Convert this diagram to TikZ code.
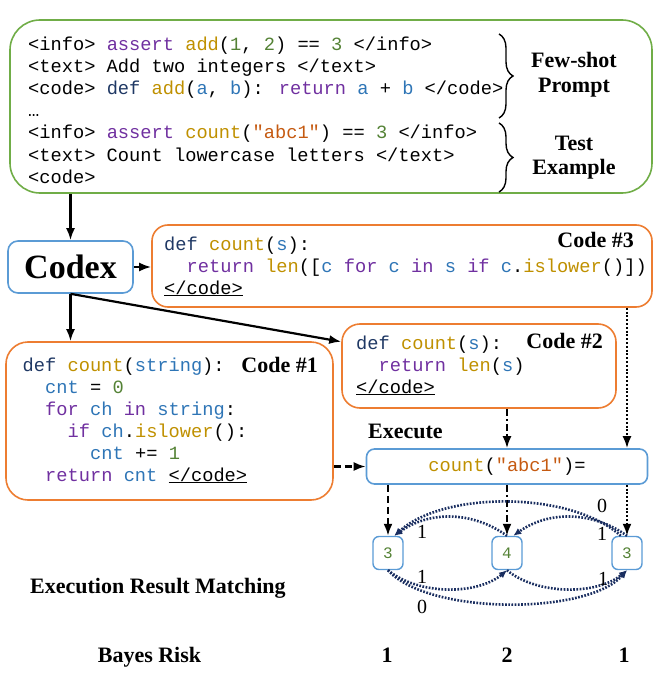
\documentclass[tikz,border=0pt]{standalone}
\usepackage{fontspec}
\setmainfont{Liberation Serif}
\newfontfamily\codefont{Liberation Mono}
\usetikzlibrary{arrows.meta,decorations.pathreplacing,calc}
\definecolor{cpurple}{RGB}{112,48,160}
\definecolor{cgold}{RGB}{191,144,0}
\definecolor{cdark}{RGB}{31,56,100}
\definecolor{cblue}{RGB}{46,117,182}
\definecolor{cgreen}{RGB}{84,130,53}
\definecolor{corange}{RGB}{197,90,17}
\definecolor{boxgreen}{RGB}{112,173,71}
\definecolor{boxorange}{RGB}{237,125,49}
\definecolor{boxblue}{RGB}{91,155,213}
\definecolor{arcnavy}{RGB}{25,45,95}
\newcommand\ckw[1]{\textcolor{cpurple}{#1}}
\newcommand\cfn[1]{\textcolor{cgold}{#1}}
\newcommand\cdf[1]{\textcolor{cdark}{#1}}
\newcommand\cvr[1]{\textcolor{cblue}{#1}}
\newcommand\cnm[1]{\textcolor{cgreen}{#1}}
\newcommand\cstr[1]{\textcolor{corange}{#1}}
\begin{document}
\begin{tikzpicture}[x=1pt,y=-1pt,
  codeline/.style={anchor=base west, inner sep=0pt, font=\codefont\fontsize{18.7}{22}\selectfont},
  lbl/.style={inner sep=0pt, font=\bfseries\fontsize{22}{26}\selectfont},
  numlbl/.style={inner sep=0pt, anchor=base, font=\fontsize{20}{22}\selectfont},
  gbox/.style={draw=boxgreen, line width=1.6pt},
  obox/.style={draw=boxorange, line width=1.6pt},
  bbox/.style={draw=boxblue, line width=1.6pt},
  resbox/.style={draw=boxblue, line width=1.4pt, rounded corners=6pt, minimum width=30, minimum height=33, inner sep=0pt, text=cgreen, font=\codefont\fontsize{16}{18}\selectfont},
  conn/.style={line width=2.2pt, -{Latex[length=12pt,width=9pt]}},
  dsh/.style={dash pattern=on 7pt off 4pt},
  dshdot/.style={dash pattern=on 7pt off 3pt on 2pt off 3pt},
  dtt/.style={dash pattern=on 2pt off 1.8pt},
  arc/.style={draw=arcnavy, line width=2.6pt, dash pattern=on 1.7pt off 1.5pt, -{Latex[length=8pt,width=7pt]}},
  brc/.style={decorate, decoration={brace, amplitude=14pt}, line width=1.4pt}
]
\useasboundingbox (0,0) rectangle (660,679);

% boxes
\node[gbox, rounded corners=30pt, minimum width=642, minimum height=173] (green) at (331,106.5) {};
\node[bbox, rounded corners=10pt, minimum width=125, minimum height=52, inner sep=0pt, font=\bfseries\fontsize{34}{40}\selectfont] (codex) at (70.5,267) {Codex};
\node[obox, rounded corners=16pt, minimum width=500, minimum height=82] (code3) at (402,266) {};
\node[obox, rounded corners=22pt, minimum width=327, minimum height=158] (code1) at (169.5,421) {};
\node[obox, rounded corners=18pt, minimum width=274, minimum height=84] (code2) at (479,366) {};
\node[bbox, rounded corners=8pt, minimum width=281, minimum height=35, inner sep=0pt, font=\codefont\fontsize{18.7}{22}\selectfont] (exec) at (507,466.5) {\cfn{count}(\cstr{"abc1"})=};

% prompt text
\node[codeline] (g1) at (28,51) {<info> \ckw{assert} \cfn{add}(\cnm{1}, \cnm{2}) == \cnm{3} </info>};
\node[codeline] (g2) at (28,73) {<text> Add two integers </text>};
\node[codeline] (g3) at (28,95) {<code> \cdf{def} \cfn{add}(\cvr{a}, \cvr{b}): \ckw{return} \cvr{a} + \cvr{b} </code>};
\node[codeline] (g4) at (28,117) {…};
\node[codeline] (g5) at (28,139) {<info> \ckw{assert} \cfn{count}(\cstr{"abc1"}) == \cnm{3} </info>};
\node[codeline] (g6) at (28,161) {<text> Count lowercase letters </text>};
\node[codeline] (g7) at (28,183) {<code>};

\draw[brc] (499,34) -- (499,118);
\draw[brc] (499,123) -- (499,192);
\node[lbl, anchor=base] (fs1) at (574,68) {Few-shot};
\node[lbl, anchor=base] (fs2) at (574,93) {Prompt};
\node[lbl, anchor=base] (te1) at (574,150) {Test};
\node[lbl, anchor=base] (te2) at (574,175) {Example};

% code 3
\node[codeline] (c3a) at (164,250) {\cdf{def} \cfn{count}(\cvr{s}):};
\node[codeline] (c3b) at (186.5,272) {\ckw{return} \cfn{len}([\cvr{c} \ckw{for} \cvr{c} \ckw{in} \cvr{s} \ckw{if} \cvr{c}.\cfn{islower}()])};
\node[codeline] (c3c) at (164,294) {\underline{</code>}};
\node[lbl, anchor=base east] (c3l) at (634,247) {Code \#3};

% code 1
\node[codeline] (c1a) at (22.5,371) {\cdf{def} \cfn{count}(\cvr{string}):};
\node[codeline] (c1b) at (45,393) {\cvr{cnt} = \cnm{0}};
\node[codeline] (c1c) at (45,415) {\ckw{for} \cvr{ch} \ckw{in} \cvr{string}:};
\node[codeline] (c1d) at (67.5,437) {\ckw{if} \cvr{ch}.\cfn{islower}():};
\node[codeline] (c1e) at (90,459) {\cvr{cnt} += \cnm{1}};
\node[codeline] (c1f) at (45,481) {\ckw{return} \cvr{cnt} \underline{</code>}};
\node[lbl, anchor=base east] (c1l) at (318,372) {Code \#1};

% code 2
\node[codeline] (c2a) at (356,349) {\cdf{def} \cfn{count}(\cvr{s}):};
\node[codeline] (c2b) at (378.5,371) {\ckw{return} \cfn{len}(\cvr{s})};
\node[codeline] (c2c) at (356,393) {\underline{</code>}};
\node[lbl, anchor=base east] (c2l) at (603,348) {Code \#2};

\node[lbl, anchor=base west] (exl) at (368,438) {Execute};

% results
\node[resbox] (r1) at (388,553) {3};
\node[resbox] (r2) at (507,553) {4};
\node[resbox] (r3) at (627,553) {3};

% connectors
\draw[conn] (green.south -| codex.north) -- (codex.north);
\draw[conn] (codex.east) -- (code3.west |- codex.east);
\draw[conn] (codex.south) -- (code1.north -| codex.south);
\draw[conn] (codex.south) -- (code2.170);
\draw[conn, dsh] (code1.east |- exec.west) -- (exec.west);
\draw[conn, dshdot] (code2.south -| r2.north) -- (exec.north -| r2.north);
\draw[conn, dtt] (code3.south -| r3.north) -- (exec.north -| r3.north);
\draw[conn, dsh] (exec.south -| r1.north) -- (r1.north);
\draw[conn, dshdot] (exec.south -| r2.north) -- (r2.north);
\draw[conn, dtt] (exec.south -| r3.north) -- (r3.north);

% matching arcs
\draw[arc] (r2.north) .. controls +(-35,-25) and +(35,-25) .. (r1.70);
\draw[arc] (r3.north) .. controls +(-35,-25) and +(35,-25) .. (r2.70);
\draw[arc] (r3.110) .. controls +(-50,-45) and +(50,-45) .. (r1.70);
\draw[arc] (r1.south) .. controls +(30,25) and +(-30,25) .. (r2.south);
\draw[arc] (r2.south) .. controls +(30,25) and +(-30,25) .. (r3.south);
\draw[arc] (r1.south) .. controls +(40,45) and +(-40,45) .. (r3.south);

\node[numlbl] (t12) at (422,538) {1};
\node[numlbl] (t23) at (602,540) {1};
\node[numlbl] (t13) at (602,512) {0};
\node[numlbl] (b12) at (422,583) {1};
\node[numlbl] (b23) at (603,585) {1};
\node[numlbl] (b13) at (422,613) {0};

\node[lbl, anchor=base west] (erm) at (30,593) {Execution Result Matching};
\node[lbl, anchor=base] (br) at (149.5,662) {Bayes Risk};
\node[lbl, anchor=base] (br1) at (387,662) {1};
\node[lbl, anchor=base] (br2) at (507,662) {2};
\node[lbl, anchor=base] (br3) at (624,662) {1};
\end{tikzpicture}
\end{document}
